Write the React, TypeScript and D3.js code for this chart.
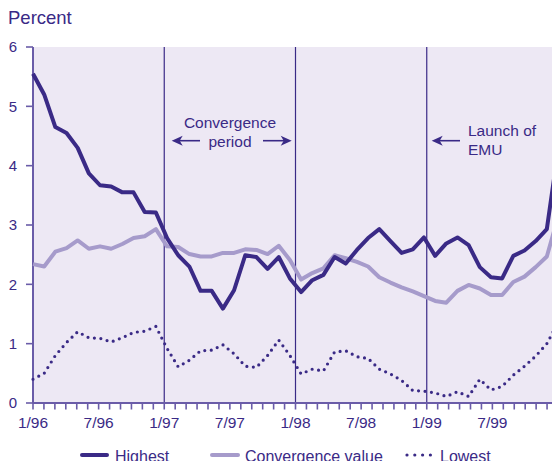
import React from "react";
import * as d3 from "d3";

const yTicks = [0, 1, 2, 3, 4, 5, 6];
const xTickLabels = ["1/96", "7/96", "1/97", "7/97", "1/98", "7/98", "1/99", "7/99"];
const eventMonths = [12, 24, 36];

const highest = [
  5.55, 5.2, 4.65, 4.55, 4.3, 3.87, 3.67, 3.65, 3.55, 3.55, 3.22, 3.21,
  2.78, 2.49, 2.3, 1.89, 1.89, 1.59, 1.9, 2.49, 2.46, 2.26, 2.46, 2.1,
  1.87, 2.07, 2.16, 2.46, 2.35, 2.58, 2.78, 2.93, 2.73, 2.53, 2.59, 2.79,
  2.48, 2.69, 2.79, 2.66, 2.29, 2.12, 2.1, 2.48, 2.57, 2.73, 2.93, 4.25,
];
const convergence = [
  2.34, 2.3, 2.55, 2.61, 2.74, 2.6, 2.64, 2.6, 2.68, 2.78, 2.81, 2.93,
  2.64, 2.63, 2.51, 2.47, 2.47, 2.53, 2.53, 2.59, 2.58, 2.51, 2.65, 2.41,
  2.08, 2.19, 2.27, 2.49, 2.44, 2.38, 2.3, 2.12, 2.03, 1.95, 1.88, 1.8,
  1.72, 1.69, 1.89, 1.99, 1.93, 1.82, 1.82, 2.04, 2.13, 2.29, 2.47, 3.13,
];
const lowest = [
  0.4, 0.5, 0.8, 1.02, 1.2, 1.1, 1.09, 1.03, 1.1, 1.19, 1.21, 1.29,
  0.92, 0.61, 0.72, 0.88, 0.89, 0.98, 0.83, 0.62, 0.6, 0.8, 1.06, 0.8,
  0.49, 0.57, 0.54, 0.86, 0.88, 0.78, 0.75, 0.57, 0.49, 0.38, 0.21, 0.2,
  0.17, 0.11, 0.19, 0.11, 0.4, 0.22, 0.28, 0.47, 0.62, 0.79, 1.0, 1.35,
];

const TEXT = "#3a2a86";
const DARK = "#3a2a86";
const LIGHT = "#a69bcb";
const AXIS = "#6a5ca8";
const BG = "#ede8f4";
const FONT = "'Liberation Sans', Arial, Helvetica, sans-serif";

export default function App() {
  const left = 33, right = 558, top = 47, bottom = 403;
  const xMonth = d3.scaleLinear().domain([0, 48]).range([left, right]);
  const xData = d3.scaleLinear().domain([0, highest.length - 1]).range([left, right]);
  const y = d3.scaleLinear().domain([0, 6]).range([bottom, top]);
  const line = d3
    .line<number>()
    .x((_, i) => xData(i))
    .y((d) => y(d));
  const months = d3.range(0, 49);

  const arrowLeft = (tx: number, ty: number) =>
    `M${tx},${ty} L${tx + 11},${ty - 5} L${tx + 8},${ty} L${tx + 11},${ty + 5} Z`;
  const arrowRight = (tx: number, ty: number) =>
    `M${tx},${ty} L${tx - 11},${ty - 5} L${tx - 8},${ty} L${tx - 11},${ty + 5} Z`;

  const ay = 140.7;
  return (
    <svg
      width={552}
      height={461}
      style={{ position: "absolute", left: 0, top: 0, fontFamily: FONT }}
    >
      <rect x={0} y={0} width={552} height={461} fill="#fff" />
      <text x={8} y={24} fontSize={18.5} fill={TEXT}>
        Percent
      </text>
      <rect x={left} y={top} width={right - left} height={bottom - top} fill={BG} />

      {eventMonths.map((m) => (
        <line key={m} x1={xMonth(m)} x2={xMonth(m)} y1={top} y2={bottom} stroke={DARK} strokeWidth={1.2} />
      ))}

      {/* y axis */}
      <line x1={left} x2={left} y1={top} y2={bottom} stroke={AXIS} strokeWidth={2} />
      {yTicks.map((t) => (
        <g key={t}>
          <line x1={left - 7} x2={left} y1={y(t)} y2={y(t)} stroke={AXIS} strokeWidth={1.6} />
          <text x={17} y={y(t)} dy="0.36em" textAnchor="end" fontSize={15} fill={TEXT}>
            {t}
          </text>
        </g>
      ))}

      {/* x axis */}
      <line x1={left} x2={right} y1={bottom} y2={bottom} stroke={AXIS} strokeWidth={2} />
      {months.map((m) => (
        <line key={m} x1={xMonth(m)} x2={xMonth(m)} y1={bottom} y2={bottom + 6.5} stroke={AXIS} strokeWidth={1.6} />
      ))}
      {xTickLabels.map((l, i) => (
        <text key={l} x={xMonth(i * 6)} y={428.3} textAnchor="middle" fontSize={15.5} fill={TEXT}>
          {l}
        </text>
      ))}

      {/* series */}
      <path d={line(convergence) || ""} fill="none" stroke={LIGHT} strokeWidth={4} strokeLinejoin="round" />
      <path d={line(highest) || ""} fill="none" stroke={DARK} strokeWidth={4} strokeLinejoin="round" />
      <path
        d={line(lowest) || ""}
        fill="none"
        stroke={DARK}
        strokeWidth={3.2}
        strokeLinecap="round"
        strokeDasharray="0 6.5"
      />

      {/* annotations */}
      <text x={230} y={128.3} textAnchor="middle" fontSize={15.5} fill={TEXT}>
        Convergence
      </text>
      <text x={230} y={146.5} textAnchor="middle" fontSize={15.5} fill={TEXT}>
        period
      </text>
      <line x1={178} x2={200} y1={ay} y2={ay} stroke={DARK} strokeWidth={1.6} />
      <path d={arrowLeft(171.7, ay)} fill={DARK} />
      <line x1={263} x2={285} y1={ay} y2={ay} stroke={DARK} strokeWidth={1.6} />
      <path d={arrowRight(291.7, ay)} fill={DARK} />

      <text x={468} y={136} fontSize={15.5} fill={TEXT}>
        Launch of
      </text>
      <text x={468} y={155} fontSize={15.5} fill={TEXT}>
        EMU
      </text>
      <line x1={438} x2={460} y1={ay} y2={ay} stroke={DARK} strokeWidth={1.6} />
      <path d={arrowLeft(431.7, ay)} fill={DARK} />

      {/* legend */}
      <line x1={82} x2={107} y1={455} y2={455} stroke={DARK} strokeWidth={4} strokeLinecap="round" />
      <text x={115} y={461.5} fontSize={16} fill={TEXT}>
        Highest
      </text>
      <line x1={212} x2={238} y1={455} y2={455} stroke={LIGHT} strokeWidth={4} strokeLinecap="round" />
      <text x={245} y={461.5} fontSize={16} fill={TEXT}>
        Convergence value
      </text>
      <line
        x1={407}
        x2={431}
        y1={455}
        y2={455}
        stroke={DARK}
        strokeWidth={3.2}
        strokeLinecap="round"
        strokeDasharray="0 7.8"
      />
      <text x={440} y={461.5} fontSize={16} fill={TEXT}>
        Lowest
      </text>
    </svg>
  );
}
